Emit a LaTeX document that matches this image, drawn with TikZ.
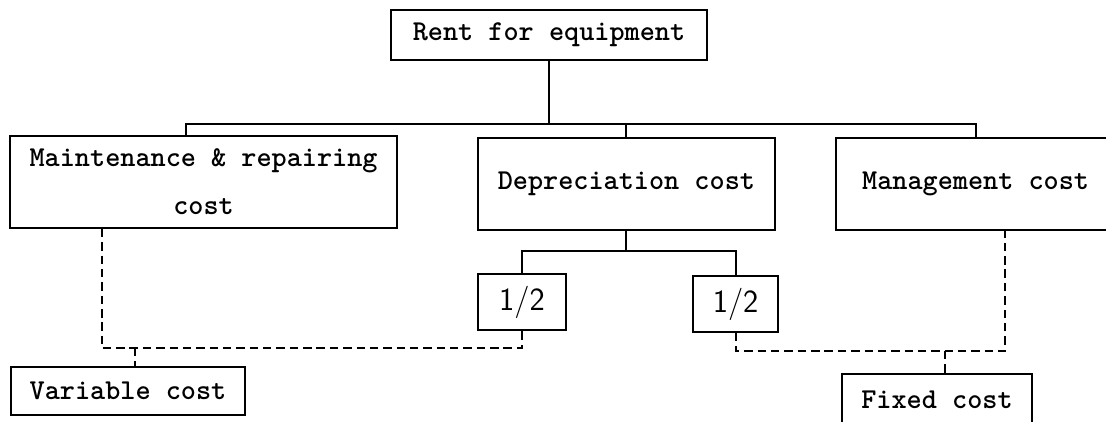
\documentclass[tikz,border=0pt]{standalone}
\usepackage{tikz}

\begin{document}
\begin{tikzpicture}[
    costbox/.style={draw, rectangle, line width=1.4pt, inner sep=0pt, align=center,
        font=\ttfamily\bfseries\fontsize{20.5}{34}\selectfont},
    halfbox/.style={draw, rectangle, line width=1.4pt, inner sep=0pt,
        font=\sffamily\fontsize{23}{26}\selectfont},
    link/.style={line width=1.4pt},
    share/.style={line width=1.4pt, dash pattern=on 6pt off 3.5pt}
]

    \useasboundingbox (0,0) rectangle (27.65,-10.525);

    % Rent for equipment
    \node[costbox, minimum width=7.9cm, minimum height=1.25cm] (rent) at (13.725,-0.875) {Rent for equipment};

    % The three cost items
    \node[costbox, minimum width=9.675cm, minimum height=2.3cm] (maint) at (5.09,-4.55) {Maintenance \& repairing\\cost};
    \node[costbox, minimum width=7.425cm, minimum height=2.3cm] (depr) at (15.66,-4.6) {Depreciation cost};
    \node[costbox, minimum width=6.975cm, minimum height=2.3cm] (mgmt) at (24.39,-4.6) {Management cost};

    % Halves of the depreciation
    \node[halfbox, minimum width=2.2cm, minimum height=1.4cm] (half1) at (13.05,-7.55) {1/2};
    \node[halfbox, minimum width=2.125cm, minimum height=1.4cm] (half2) at (18.39,-7.6) {1/2};

    % Result
    \node[costbox, minimum width=5.85cm, minimum height=1.2cm] (var) at (3.2,-9.775) {Variable cost};
    \node[costbox, minimum width=4.75cm, minimum height=1.3cm] (fixed) at (23.425,-10.0) {Fixed cost};

    % Tree lines
    \coordinate (bus) at (13.725,-3.1);
    \coordinate (split) at (15.66,-6.275);
    \draw[link] (rent.south) -- (bus);
    \draw[link] ([xshift=-0.45cm]maint.north) |- (bus) -| (mgmt.north);
    \draw[link] (depr.north) -- (depr.north |- bus);
    \draw[link] (depr.south) -- (split);
    \draw[link] (half1.north) |- (split) -| (half2.north);

    % Dashed lines to variable cost
    \coordinate (vjoin) at (3.375,-8.7);
    \draw[share] ([xshift=-2.55cm]maint.south) |- (half1.south |- vjoin) -- (half1.south);
    \draw[share] (vjoin) -- (vjoin |- var.north);

    % Dashed lines to fixed cost
    \coordinate (fjoin) at (23.625,-8.775);
    \draw[share] (half2.south) |- ([xshift=0.7375cm]mgmt.south |- fjoin) -- ([xshift=0.7375cm]mgmt.south);
    \draw[share] (fjoin) -- (fjoin |- fixed.north);

\end{tikzpicture}
\end{document}
